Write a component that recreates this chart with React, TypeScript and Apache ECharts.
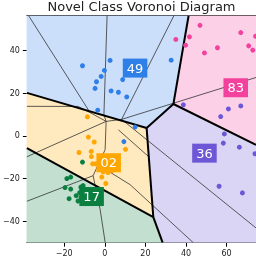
import React, { useEffect, useRef } from "react";
import * as echarts from "echarts";

const xRange = [-38.4, 74.5];
const yRange = [-50, 56.3];
const xTicks = [-20, 0, 20, 40, 60];
const yTicks = [-40, -20, 0, 20, 40];
const title = "Novel Class Voronoi Diagram";

const classNames = ["49", "83", "36", "02", "17"];
const classColors = ["#2f7fe8", "#f2429d", "#6d57d6", "#ffa600", "#0b7f3f"];
const regionFills = ["#cbdffa", "#fcd0e7", "#dbd5f5", "#ffe9bf", "#c2dfcf"];

const points49 = [
  [-11.0, 32.8], [2.6, 35.3], [-0.2, 30.6], [-1.8, 27.8], [-4.1, 25.3], [-4.8, 22.2],
  [3.1, 21.0], [6.7, 20.4], [10.8, 18.2], [8.8, 26.3], [-3.5, 12.0], [14.9, 4.1],
  [32.7, 35.4], [9.4, -2.7],
];
const points83 = [
  [46.9, 51.7], [41.7, 46.3], [39.8, 42.4], [35.0, 45.1], [49.1, 38.8], [55.5, 41.2],
  [67.0, 48.3], [70.9, 42.1], [72.9, 40.1], [74.3, 46.6],
];
const points36 = [
  [38.7, 14.5], [60.9, 12.6], [67.0, 14.0], [57.1, 9.0], [58.9, 0.9], [58.4, -3.4],
  [66.3, -5.3], [74.0, -8.4], [56.3, -23.6], [67.8, -26.7],
];
const points02 = [
  [-8.6, 8.9], [-8.1, -0.6], [-5.2, -2.9], [-12.7, -7.8], [-6.7, -7.3], [-6.6, -9.7],
  [-6.0, -13.1], [-4.5, -13.1], [10.2, -6.3], [-1.5, -19.3], [0.5, -22.3], [-0.8, -16.8],
  [1.6, -17.2], [3.6, -16.3],
];
const points17 = [
  [-11.0, -12.3], [-18.7, -20.0], [-16.8, -19.3], [-19.6, -24.2], [-16.8, -24.9],
  [-11.8, -24.0], [-12.4, -26.6], [-17.6, -29.4], [-13.2, -30.5], [-10.7, -23.3],
  [-14.1, -28.0], [-11.7, -28.9],
];
const classPoints = [points49, points83, points36, points02, points17];
const labelPos = [[14.9, 31.7], [64.5, 22.5], [49.1, -8.1], [1.9, -12.6], [-6.5, -28.4]];

const region49 = [[-38.4, 56.3], [41.3, 56.3], [33.8, 14.9], [20.6, 3.7], [-38.4, 20.1]];
const region83 = [[41.3, 56.3], [74.5, 56.3], [74.5, -4.2], [33.8, 14.9]];
const region36 = [[33.8, 14.9], [74.5, -4.2], [74.5, -50], [28.5, -50], [23.9, -38.0], [20.6, 3.7]];
const region02 = [[-38.4, 20.1], [20.6, 3.7], [23.9, -38.0], [-38.4, -5.8]];
const region17 = [[-38.4, -5.8], [23.9, -38.0], [28.5, -50], [-38.4, -50]];
const regions = [region49, region83, region36, region02, region17];

const boundaries = [
  [[-38.4, 20.1], [20.6, 3.7]],
  [[20.6, 3.7], [33.8, 14.9]],
  [[33.8, 14.9], [41.3, 56.3]],
  [[33.8, 14.9], [74.5, -4.2]],
  [[20.6, 3.7], [23.9, -38.0]],
  [[23.9, -38.0], [28.5, -50]],
  [[23.9, -38.0], [-38.4, -5.8]],
];

const thinEdges = [
  [[-37.6, 56.3], [-7.24, 10.86]],
  [[1.13, 56.3], [-0.44, 9.8], [0.64, 6.76]],
  [[34.1, 56.3], [8.28, 7.69]],
  [[8.28, 7.69], [74.5, 27.3]],
  [[0.64, 6.76], [8.28, 7.69]],
  [[8.28, 7.69], [74.5, -43.1]],
  [[-38.4, 13.8], [-13.15, 13.75], [-7.24, 10.86], [0.64, 6.76]],
  [[-38.4, -9.8], [0.64, 6.76]],
  [[0.64, 6.76], [0.15, -6.5], [-5.76, -18.65]],
  [[-5.76, -18.65], [-38.4, -30.6]],
  [[-5.76, -18.65], [-2.3, -34.5], [0.2, -50]],
  [[-0.5, -15.2], [12.46, -22.84], [43.6, -50]],
  [[6.7, 2.8], [21.5, -9.65]],
];

const fmt = (v: number) => (v < 0 ? "\u2212" + Math.abs(v) : String(v));
const FONT = "DejaVu Sans";

export default function App() {
  const ref = useRef<HTMLDivElement>(null);
  useEffect(() => {
    if (!ref.current) return;
    const chart = echarts.init(ref.current, null, { renderer: "svg" });
    const polySeries = (polys: number[][][], style: any, z: number, isFill: boolean) => ({
      type: "custom",
      coordinateSystem: "cartesian2d",
      clip: true,
      z,
      silent: true,
      data: polys.map((p) => p[0]),
      renderItem: (params: any, api: any) => {
        const pts = polys[params.dataIndex].map((p) => api.coord(p));
        if (isFill) {
          return {
            type: "polygon",
            shape: { points: pts },
            style: { fill: regionFills[params.dataIndex], stroke: regionFills[params.dataIndex], lineWidth: 0.5 },
          };
        }
        return { type: "polyline", shape: { points: pts }, style: { ...style, fill: null } };
      },
    });
    const option: any = {
      animation: false,
      grid: { left: 26.7, right: 0, top: 15.5, bottom: 18.3, containLabel: false },
      graphic: [
        {
          type: "text",
          x: 141.5,
          y: 0,
          z: 100,
          style: {
            text: title,
            textAlign: "center",
            textVerticalAlign: "top",
            fontSize: 13,
            fontFamily: FONT,
            fill: "#222",
          },
        },
      ],
      xAxis: [
        {
          type: "value",
          min: xRange[0],
          max: xRange[1],
          splitLine: { show: false },
          axisLine: { onZero: false, lineStyle: { color: "#000", width: 1 } },
          axisTick: { customValues: xTicks, length: 4, lineStyle: { color: "#000" } },
          axisLabel: { customValues: xTicks, formatter: fmt, fontSize: 8, color: "#222", margin: 7, fontFamily: FONT },
        },
        {
          type: "value",
          position: "top",
          min: xRange[0],
          max: xRange[1],
          splitLine: { show: false },
          axisLine: { onZero: false, lineStyle: { color: "#000", width: 1 } },
          axisTick: { show: false },
          axisLabel: { show: false },
        },
      ],
      yAxis: {
        type: "value",
        min: yRange[0],
        max: yRange[1],
        splitLine: { show: false },
        axisLine: { show: true, onZero: false, lineStyle: { color: "#000", width: 1 } },
        axisTick: { show: true, customValues: yTicks, length: 4, lineStyle: { color: "#000" } },
        axisLabel: { customValues: yTicks, formatter: fmt, fontSize: 8, color: "#222", margin: 7, fontFamily: FONT },
      },
      series: [
        polySeries(regions, {}, 1, true),
        polySeries(thinEdges, { stroke: "#333", lineWidth: 0.8 }, 2, false),
        polySeries(boundaries, { stroke: "#000", lineWidth: 2 }, 3, false),
        ...classPoints.map((pts, i) => ({
          type: "scatter",
          z: 4,
          symbolSize: 5,
          data: pts,
          itemStyle: { color: classColors[i], opacity: 1 },
          silent: true,
        })),
        {
          type: "scatter",
          z: 5,
          symbolSize: 1,
          itemStyle: { color: "rgba(0,0,0,0)", opacity: 1 },
          data: labelPos.map((p, i) => ({
            value: p,
            label: { backgroundColor: classColors[i], formatter: classNames[i] },
          })),
          label: {
            show: true,
            position: "inside",
            color: "#fff",
            fontSize: 13,
            fontFamily: FONT,
            padding: [3, 4, 3, 4],
          },
          labelLayout: { hideOverlap: false },
          silent: true,
        },
      ],
    };
    chart.setOption(option);
    return () => chart.dispose();
  }, []);
  return (
    <div
      ref={ref}
      style={{ position: "fixed", left: 0, top: 0, width: 256, height: 261 }}
    />
  );
}
